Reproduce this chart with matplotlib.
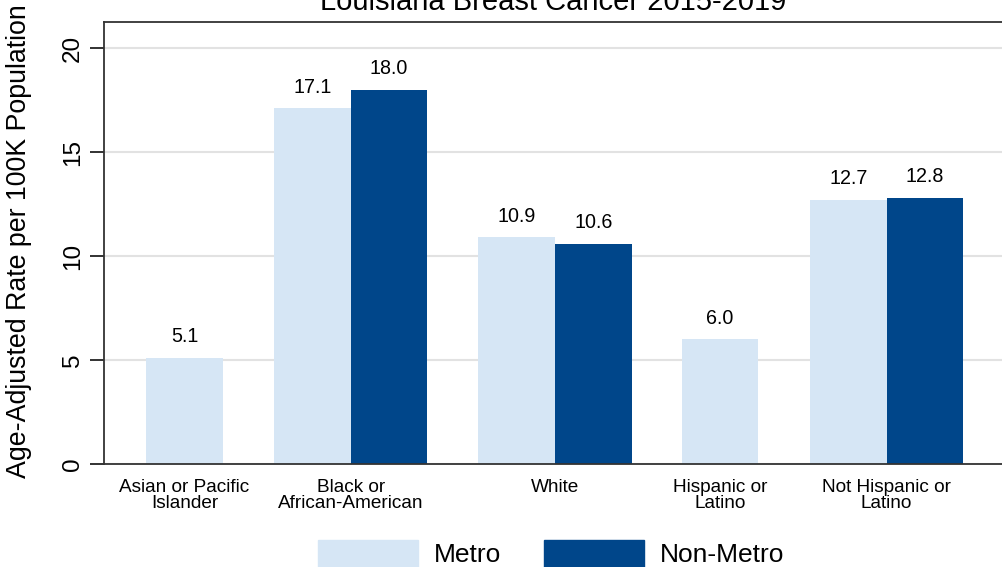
import numpy as np
import matplotlib
matplotlib.use('Agg')
import matplotlib.pyplot as plt
from matplotlib.patches import Patch

plt.rcParams['font.family'] = ['Liberation Sans', 'DejaVu Sans']

# data
categories = ['Asian or Pacific\nIslander', 'Black or\nAfrican-American', 'White',
              'Hispanic or\nLatino', 'Not Hispanic or\nLatino']
metro = [5.1, 17.1, 10.9, 6.0, 12.7]
non_metro = [None, 18.0, 10.6, None, 12.8]
group_pos = [0.0, 2.165, 4.83, 6.98, 9.15]

light = '#D6E6F5'
dark = '#00468A'

fig = plt.figure(figsize=(10.02, 5.67), dpi=100)
W, H = 1002, 567
ax = fig.add_axes([104 / W, (H - 464) / H, (1004 - 104) / W, (464 - 22) / H])

for pos, m, n in zip(group_pos, metro, non_metro):
    if n is None:
        ax.bar(pos, m, width=1.0, color=light, zorder=2)
        ax.text(pos, m + 0.55, f'{m:.1f}', ha='center', va='bottom', fontsize=14.2)
    else:
        ax.bar(pos - 0.5, m, width=1.0, color=light, zorder=2)
        ax.bar(pos + 0.5, n, width=1.0, color=dark, zorder=2)
        ax.text(pos - 0.5, m + 0.55, f'{m:.1f}', ha='center', va='bottom', fontsize=14.2)
        ax.text(pos + 0.5, n + 0.55, f'{n:.1f}', ha='center', va='bottom', fontsize=14.2)

ax.set_xlim(-1.05, 10.68)
ax.set_ylim(0, 21.25)
ax.set_yticks([0, 5, 10, 15, 20])
ax.set_xticks(group_pos)
ax.set_xticklabels(categories, fontsize=13.7, linespacing=0.95)
ax.tick_params(axis='x', length=0, pad=10.5)
ax.tick_params(axis='y', length=10, width=1.3, pad=4.5, labelsize=17.5, color='#222222')
for lbl in ax.get_yticklabels():
    lbl.set_rotation(90)
    lbl.set_va('center')

ax.grid(axis='y', color='#E2E2E2', linewidth=1.5, zorder=0)
ax.set_axisbelow(True)
for side in ['left', 'top', 'bottom', 'right']:
    ax.spines[side].set_color('#333333')
    ax.spines[side].set_linewidth(1.3)

ax.set_ylabel('Age-Adjusted Rate per 100K Population', fontsize=19.3)
ax.yaxis.set_label_coords(-72 / 900, 0.505)
fig.text(553.5 / W, 1 - 10 / H, 'Louisiana Breast Cancer 2015-2019', ha='center',
         va='baseline', fontsize=21)

handles = [Patch(color=light, label='Metro'), Patch(color=dark, label='Non-Metro')]
fig.legend(handles=handles, loc='upper center', bbox_to_anchor=(551 / W, 1 - 540 / H),
           ncol=2, frameon=False, fontsize=19, handlelength=3.8, handleheight=1.2,
           handletextpad=0.6, columnspacing=1.6, borderpad=0, borderaxespad=0)

fig.savefig('out.png', dpi=100)
